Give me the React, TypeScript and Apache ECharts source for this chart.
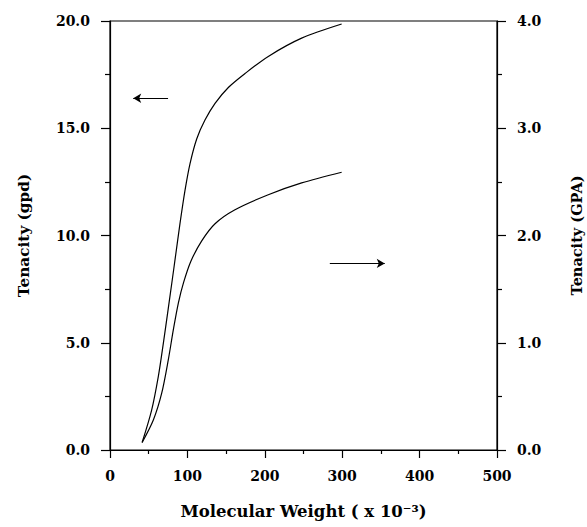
import React, { useEffect, useRef } from "react";
import * as echarts from "echarts";

const xTicks = [0, 100, 200, 300, 400, 500];
const gpdTicks = [0, 5, 10, 15, 20];
const gpaTicks = [0, 1, 2, 3, 4];

const gpdCurve: [number, number][] = [
  [41.5, 0.35], [53.8, 1.86], [62.4, 3.42], [68.9, 4.97], [75.3, 6.6],
  [80.5, 7.95], [84.5, 9.0], [90.4, 10.55], [96.9, 12.1], [103.4, 13.35],
  [112, 14.5], [122.7, 15.38], [135.7, 16.16], [152.9, 16.9], [174.4, 17.55],
  [204.5, 18.35], [247.6, 19.2], [299.3, 19.86],
];

const gpaCurve: [number, number][] = [
  [41.5, 0.07], [56, 0.28], [66.8, 0.53], [75.3, 0.84], [81.8, 1.12],
  [88.3, 1.37], [95, 1.56], [104.5, 1.76], [118.5, 1.95], [135.7, 2.11],
  [161.5, 2.24], [204.5, 2.38], [247.6, 2.49], [299.3, 2.59],
];

const leftArrow: [number, number][] = [[75, 16.4], [30, 16.4]];
const rightArrow: [number, number][] = [[284, 1.74], [355, 1.74]];

const FONT = "DejaVu Serif";

export default function App() {
  const ref = useRef<HTMLDivElement>(null);
  useEffect(() => {
    if (!ref.current) return;
    const chart = echarts.init(ref.current, null, { renderer: "svg" });
    const axisLabel = { color: "#000", fontFamily: FONT, fontWeight: "bold" as const, fontSize: 14 };
    const nameStyle = (size: number) => ({ color: "#000", fontFamily: FONT, fontWeight: "bold" as const, fontSize: size });
    const lineStyle = { color: "#000", width: 1.2 };
    chart.setOption({
      animation: false,
      backgroundColor: "#fff",
      grid: {
        left: 110, right: 90, top: 21, bottom: 77, show: true, borderColor: "#000", borderWidth: 1.2,
        backgroundColor: "transparent", containLabel: false, outerBoundsMode: "none",
      },
      xAxis: {
        type: "value", min: xTicks[0], max: xTicks[xTicks.length - 1], interval: 100,
        axisLine: { show: true, lineStyle },
        axisTick: { show: true, length: 8, lineStyle },
        minorTick: { show: true, splitNumber: 2, length: 4, lineStyle },
        splitLine: { show: false },
        axisLabel: { ...axisLabel, margin: 19, formatter: (v: number) => String(v) },
        name: "Molecular Weight ( x 10⁻³)", nameLocation: "middle", nameGap: 53, nameTextStyle: nameStyle(16.5),
      },
      yAxis: [
        {
          type: "value", min: gpdTicks[0], max: gpdTicks[gpdTicks.length - 1], interval: 5, position: "left",
          axisLine: { show: true, lineStyle },
          axisTick: { show: true, length: 9, lineStyle },
          minorTick: { show: true, splitNumber: 2, length: 5, lineStyle },
          splitLine: { show: false },
          axisLabel: { ...axisLabel, margin: 20, formatter: (v: number) => v.toFixed(1) },
          name: "Tenacity (gpd)", nameLocation: "middle", nameRotate: 90, nameGap: 79, nameTextStyle: nameStyle(15.3),
        },
        {
          type: "value", min: gpaTicks[0], max: gpaTicks[gpaTicks.length - 1], interval: 1, position: "right",
          axisLine: { show: true, lineStyle },
          axisTick: { show: true, length: 9, lineStyle },
          minorTick: { show: true, splitNumber: 2, length: 5, lineStyle },
          splitLine: { show: false },
          axisLabel: { ...axisLabel, margin: 20, formatter: (v: number) => v.toFixed(1) },
          name: "Tenacity (GPA)", nameLocation: "middle", nameRotate: 90, nameGap: 72, nameTextStyle: nameStyle(14.5),
        },
      ],
      series: [
        {
          type: "line", yAxisIndex: 0, data: gpdCurve, smooth: 0.3, showSymbol: false,
          lineStyle, silent: true,
          markLine: {
            silent: true, symbol: ["none", "arrow"], symbolSize: [7, 8], label: { show: false },
            lineStyle: { color: "#000", width: 1.2, type: "solid" },
            data: [[{ coord: leftArrow[0] }, { coord: leftArrow[1] }]],
          },
        },
        {
          type: "line", yAxisIndex: 1, data: gpaCurve, smooth: 0.3, showSymbol: false,
          lineStyle, silent: true,
          markLine: {
            silent: true, symbol: ["none", "arrow"], symbolSize: [7, 8], label: { show: false },
            lineStyle: { color: "#000", width: 1.2, type: "solid" },
            data: [[{ coord: rightArrow[0] }, { coord: rightArrow[1] }]],
          },
        },
      ],
    });
    return () => chart.dispose();
  }, []);
  return <div ref={ref} style={{ width: 587, height: 527, position: "absolute", left: 0, top: 0 }} />;
}
